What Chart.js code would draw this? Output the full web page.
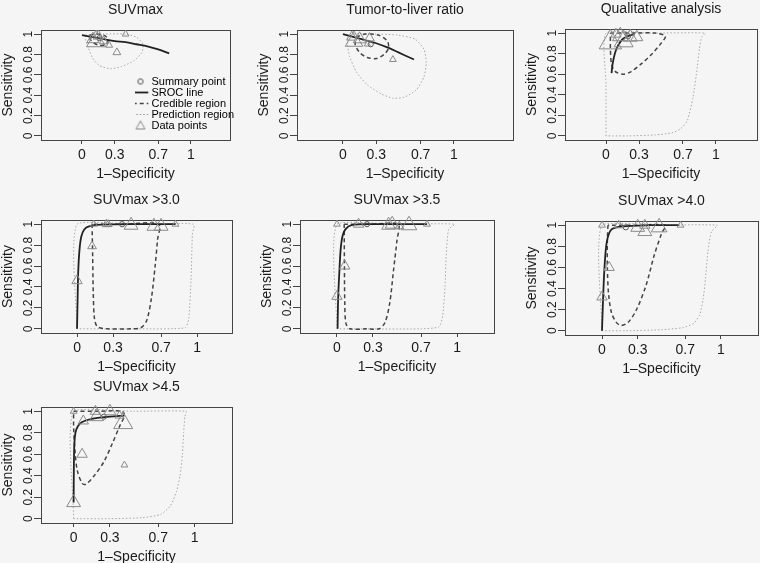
<!DOCTYPE html>
<html>
<head>
<meta charset="utf-8">
<script src="https://cdn.jsdelivr.net/npm/chart.js@4.4.1/dist/chart.umd.min.js"></script>
<style>
  body { margin: 0; background: #f5f5f5; width: 760px; height: 563px; position: relative; overflow: hidden; }
  canvas { position: absolute; }
</style>
</head>
<body>
<script>
// ---- data: [1-specificity, sensitivity] ----
const titles = ["SUVmax", "Tumor-to-liver ratio", "Qualitative analysis",
                "SUVmax >3.0", "SUVmax >3.5", "SUVmax >4.0", "SUVmax >4.5"];
const xTicks = [0, 0.3, 0.7, 1];
const yTicks = [0, 0.2, 0.4, 0.6, 0.8, 1];

// SROC lines
const srocSuv = [[0,0.99],[0.1,0.97],[0.2,0.95],[0.3,0.93],[0.4,0.92],[0.5,0.9],[0.6,0.88],[0.7,0.85],[0.8,0.81]];
const srocTlr = [[0,1.0],[0.1,0.97],[0.2,0.94],[0.3,0.91],[0.4,0.87],[0.5,0.82],[0.6,0.77],[0.64,0.75]];
const srocQual = [[0.05,0.61],[0.06,0.7],[0.08,0.8],[0.11,0.88],[0.15,0.94],[0.2,0.97],[0.26,0.99]];
const srocS30 = [[0,0],[0.005,0.3],[0.01,0.55],[0.02,0.75],[0.035,0.88],[0.06,0.95],[0.1,0.98],[0.2,0.995],[0.5,1.0],[0.82,1.0]];
const srocS35 = [[0.005,0],[0.01,0.3],[0.02,0.55],[0.03,0.75],[0.045,0.88],[0.07,0.95],[0.12,0.99],[0.3,1.0],[0.75,1.0]];
const srocS40 = [[0,0],[0.008,0.27],[0.02,0.58],[0.04,0.84],[0.08,0.96],[0.18,0.99],[0.4,1.0],[0.65,1.0]];
const srocS45 = [[0,0.15],[0.002,0.5],[0.006,0.7],[0.015,0.8],[0.035,0.86],[0.07,0.9],[0.15,0.93],[0.3,0.95],[0.42,0.96]];

// credible regions
const credSuv = [[0.07,0.99],[0.13,1.0],[0.2,0.99],[0.24,0.95],[0.22,0.9],[0.16,0.89],[0.1,0.92],[0.07,0.96],[0.07,0.99]];
const credTlr = [[0.12,0.97],[0.2,1.0],[0.32,0.99],[0.4,0.93],[0.41,0.86],[0.37,0.8],[0.3,0.76],[0.22,0.77],[0.15,0.82],[0.11,0.9],[0.12,0.97]];
const credQual = [[0.04,1.0],[0.25,1.0],[0.45,1.0],[0.54,0.97],[0.5,0.9],[0.42,0.8],[0.32,0.7],[0.22,0.62],[0.15,0.6],[0.08,0.63],[0.05,0.7],[0.04,0.85],[0.04,1.0]];
const credS30 = [[0.125,1.0],[0.13,0.7],[0.135,0.35],[0.145,0.1],[0.17,0.02],[0.25,0.0],[0.45,0.0],[0.53,0.01],[0.58,0.08],[0.62,0.3],[0.65,0.6],[0.67,0.85],[0.68,1.0],[0.4,1.0],[0.125,1.0]];
const credS35 = [[0.06,1.0],[0.062,0.6],[0.065,0.25],[0.075,0.05],[0.11,0.0],[0.25,0.0],[0.35,0.0],[0.4,0.06],[0.44,0.25],[0.47,0.55],[0.5,0.85],[0.51,1.0],[0.3,1.0],[0.06,1.0]];
const credS40 = [[0.05,1.0],[0.045,0.85],[0.045,0.6],[0.055,0.35],[0.08,0.17],[0.12,0.08],[0.16,0.05],[0.22,0.08],[0.29,0.2],[0.37,0.43],[0.44,0.72],[0.5,0.92],[0.53,1.0],[0.3,1.0],[0.05,1.0]];
const credS45 = [[0.0,1.0],[0.2,1.0],[0.4,1.0],[0.42,0.96],[0.38,0.86],[0.32,0.7],[0.25,0.53],[0.17,0.4],[0.1,0.32],[0.07,0.33],[0.03,0.45],[0.01,0.65],[0.0,0.85],[0.0,1.0]];

// prediction regions
const predSuv = [[0.03,0.99],[0.2,1.0],[0.4,1.0],[0.5,0.97],[0.56,0.9],[0.55,0.82],[0.48,0.74],[0.36,0.68],[0.26,0.66],[0.16,0.69],[0.1,0.76],[0.06,0.86],[0.03,0.95],[0.03,0.99]];
const predTlr = [[0.04,0.97],[0.1,1.0],[0.3,1.0],[0.5,0.99],[0.65,0.95],[0.73,0.85],[0.75,0.72],[0.73,0.58],[0.66,0.45],[0.55,0.38],[0.45,0.37],[0.35,0.41],[0.22,0.5],[0.12,0.63],[0.06,0.78],[0.04,0.9],[0.04,0.97]];
const predQual = [[0,0],[0,0.5],[0,1.0],[0.4,1.0],[0.9,1.0],[0.87,0.96],[0.85,0.85],[0.83,0.67],[0.79,0.37],[0.74,0.15],[0.68,0.07],[0.6,0.03],[0.45,0.01],[0.2,0],[0,0]];
const predS30 = [[0,0],[0,1],[0.5,1.0],[0.97,1.0],[0.96,0.9],[0.95,0.5],[0.93,0.1],[0.9,0.01],[0.5,0],[0,0]];
const predS35 = [[0,0],[0,1],[0.5,1.0],[0.98,1.0],[0.93,0.95],[0.91,0.7],[0.9,0.4],[0.88,0.12],[0.85,0.02],[0.7,0],[0,0]];
const predS40 = [[0,0],[0,1],[0.5,1.0],[0.97,1.0],[0.92,0.94],[0.89,0.75],[0.87,0.5],[0.85,0.3],[0.82,0.15],[0.77,0.07],[0.68,0.03],[0.5,0.01],[0.2,0],[0,0]];
const predS45 = [[0,0],[0,1],[0.5,1.0],[0.93,1.0],[0.92,0.95],[0.91,0.8],[0.9,0.6],[0.88,0.4],[0.85,0.25],[0.8,0.12],[0.72,0.04],[0.57,0.01],[0.3,0],[0,0]];

// summary points
const summaries = [[0.16,0.96],[0.25,0.9],[0.2,0.97],[0.375,1.0],[0.25,1.0],[0.2,0.98],[0.25,0.95]];

// study data points: [x, y, study weight]
const ptsSuv = [[0.13,0.93,48],[0.15,0.98,14],[0.1,0.95,19],[0.2,0.93,10],[0.25,0.89,6],[0.32,0.82,8],[0.4,1.0,6]];
const ptsTlr = [[0.1,0.93,40],[0.15,0.95,21],[0.08,0.97,14],[0.24,0.96,12],[0.22,0.9,5],[0.45,0.75,6]];
const ptsQual = [[0.04,0.91,66],[0.16,0.92,47],[0.13,0.97,32],[0.22,0.96,25],[0.28,0.96,19],[0.09,0.99,14]];
const ptsS30 = [[0,0.46,14],[0.125,0.79,10],[0.14,1.0,6],[0.245,1.0,10],[0.26,1.0,8],[0.45,0.99,25],[0.64,0.98,25],[0.7,0.98,25],[0.82,1.0,6]];
const ptsS35 = [[0,1.0,6],[0,0.31,14],[0.065,0.6,14],[0.18,1.0,14],[0.43,0.99,25],[0.46,1.0,25],[0.6,0.99,32],[0.52,0.98,10],[0.75,1.0,6]];
const ptsS40 = [[0,1.0,6],[0,0.32,14],[0.06,0.6,14],[0.14,1.0,10],[0.3,0.98,25],[0.36,1.0,14],[0.36,0.94,25],[0.48,0.98,32],[0.66,1.0,6]];
const ptsS45 = [[0,1.0,6],[0,0.15,25],[0.07,0.6,14],[0.08,0.91,14],[0.18,1.0,14],[0.19,0.95,25],[0.3,1.0,19],[0.41,0.89,47],[0.38,0.96,10],[0.42,0.5,6]];

// ---- panel layout (plot box in page pixels, x range) ----
const panels = [
  { box: [41, 30, 230, 140],  xr: [-0.376, 1.358], sroc: srocSuv,  cred: credSuv,  pred: predSuv,  pts: ptsSuv,  legend: true },
  { box: [297, 30, 513, 140], xr: [-0.414, 1.532], sroc: srocTlr,  cred: credTlr,  pred: predTlr,  pts: ptsTlr },
  { box: [565, 29, 757, 140], xr: [-0.373, 1.373], sroc: srocQual, cred: credQual, pred: predQual, pts: ptsQual },
  { box: [41, 220, 232, 333], xr: [-0.3, 1.29],    sroc: srocS30,  cred: credS30,  pred: predS30,  pts: ptsS30 },
  { box: [300, 220, 494, 333], xr: [-0.308, 1.308], sroc: srocS35, cred: credS35,  pred: predS35,  pts: ptsS35 },
  { box: [565, 221, 758, 335], xr: [-0.311, 1.311], sroc: srocS40, cred: credS40,  pred: predS40,  pts: ptsS40 },
  { box: [41, 407, 232, 523], xr: [-0.27, 1.31],   sroc: srocS45,  cred: credS45,  pred: predS45,  pts: ptsS45 }
];

Chart.defaults.font.family = "'Liberation Sans', Arial, sans-serif";
Chart.defaults.color = '#1a1a1a';

const AXIS = '#444';
const LEFT = 41, TOP = 30, BOTTOM = 45, RIGHT = 24;

const xy = arr => arr.map(p => ({ x: p[0], y: p[1] }));

// small marker images for the legend
function markerImg(kind) {
  const c = document.createElement('canvas');
  c.width = 12; c.height = 12;
  const g = c.getContext('2d');
  g.lineWidth = 1;
  if (kind === 'circle') {
    g.strokeStyle = '#555';
    g.beginPath(); g.arc(6, 6, 2.6, 0, Math.PI * 2); g.stroke();
  } else {
    g.strokeStyle = '#888';
    g.beginPath(); g.moveTo(6, 1.5); g.lineTo(10.5, 9.5); g.lineTo(1.5, 9.5); g.closePath(); g.stroke();
  }
  return c;
}

const legendItems = [
  { text: 'Summary point', pointStyle: markerImg('circle'), lineWidth: 1, strokeStyle: '#555', fillStyle: 'rgba(0,0,0,0)' },
  { text: 'SROC line', pointStyle: 'line', lineWidth: 1.8, strokeStyle: '#222', lineDash: [] },
  { text: 'Credible region', pointStyle: 'line', lineWidth: 1.5, strokeStyle: '#444', lineDash: [4, 3] },
  { text: 'Prediction region', pointStyle: 'line', lineWidth: 1, strokeStyle: '#999', lineDash: [1.5, 2] },
  { text: 'Data points', pointStyle: markerImg('tri'), lineWidth: 1, strokeStyle: '#888', fillStyle: 'rgba(0,0,0,0)' }
];

// put the legend inside the plot box, lower right
const legendInside = {
  id: 'legendInside',
  afterLayout(chart) {
    const lg = chart.legend;
    if (chart.options.plugins.legend.display && lg) {
      const dx = chart.chartArea.left + 94 - lg.left;
      const dy = chart.chartArea.top + 46 - lg.top;
      lg.left += dx; lg.right += dx + 200;
      lg.top += dy; lg.bottom += dy + 200;
    }
  }
};

panels.forEach((p, i) => {
  const [bl, bt, br, bb] = p.box;
  const cv = document.createElement('canvas');
  const w = LEFT + (br - bl) + RIGHT;
  const h = TOP + (bb - bt) + BOTTOM;
  cv.width = w; cv.height = h;
  cv.style.left = (bl - LEFT) + 'px';
  cv.style.top = (bt - TOP) + 'px';
  cv.style.width = w + 'px';
  cv.style.height = h + 'px';
  document.body.appendChild(cv);

  new Chart(cv, {
    type: 'scatter',
    data: {
      datasets: [
        {
          label: 'Data points',
          data: p.pts.map(d => ({ x: d[0], y: d[1] })),
          pointStyle: 'triangle',
          pointRadius: p.pts.map(d => 1.6 * Math.sqrt(d[2])),
          borderColor: '#8a8a8a',
          backgroundColor: 'rgba(0,0,0,0)',
          borderWidth: 1,
          clip: false
        },
        {
          label: 'Summary point',
          data: xy([summaries[i]]),
          pointStyle: 'circle',
          pointRadius: 2.6,
          borderColor: '#555',
          backgroundColor: 'rgba(0,0,0,0)',
          borderWidth: 1
        },
        {
          label: 'SROC line',
          data: xy(p.sroc),
          showLine: true,
          pointRadius: 0,
          borderColor: '#222',
          borderWidth: 1.8,
          tension: 0.3
        },
        {
          label: 'Credible region',
          data: xy(p.cred),
          showLine: true,
          pointRadius: 0,
          borderColor: '#444',
          borderWidth: 1.5,
          borderDash: [4, 3],
          tension: 0.3
        },
        {
          label: 'Prediction region',
          data: xy(p.pred),
          showLine: true,
          pointRadius: 0,
          borderColor: '#a8a8a8',
          borderWidth: 1,
          borderDash: [1.5, 2],
          tension: 0.2
        }
      ]
    },
    options: {
      responsive: false,
      animation: false,
      events: [],
      layout: { padding: { left: 0, top: 0, right: RIGHT, bottom: 0 } },
      scales: {
        x: {
          type: 'linear', position: 'bottom', min: p.xr[0], max: p.xr[1],
          afterBuildTicks: s => { s.ticks = xTicks.map(v => ({ value: v })); },
          afterFit: s => { s.height = BOTTOM; },
          ticks: { callback: v => String(v), font: { size: 14 }, padding: 3, maxRotation: 0, autoSkip: false },
          grid: { drawOnChartArea: false, tickLength: 4, color: AXIS },
          border: { color: AXIS },
          title: { display: true, text: '1\u2013Specificity', font: { size: 14 }, padding: { top: 0, bottom: 2.5 } }
        },
        y: {
          type: 'linear', position: 'left', min: -0.04, max: 1.04,
          afterBuildTicks: s => { s.ticks = yTicks.map(v => ({ value: v })); },
          afterFit: s => { s.width = LEFT; },
          ticks: { callback: v => String(v), font: { size: 12 }, minRotation: 90, maxRotation: 90, crossAlign: 'center', padding: -3, autoSkip: false },
          grid: { drawOnChartArea: false, tickLength: 7, color: AXIS },
          border: { color: AXIS },
          title: { display: true, text: 'Sensitivity', font: { size: 14 }, padding: { top: 0, bottom: 0 } }
        },
        x2: {
          type: 'linear', position: 'top', min: p.xr[0], max: p.xr[1],
          afterFit: s => { s.height = TOP; },
          ticks: { display: false },
          grid: { display: false },
          border: { color: AXIS },
          title: { display: true, text: titles[i], font: { size: 14 }, padding: { top: 2, bottom: 0 } }
        },
        y2: {
          type: 'linear', position: 'right', min: -0.04, max: 1.04,
          afterFit: s => { s.width = 0; },
          ticks: { display: false },
          grid: { display: false },
          border: { color: AXIS }
        }
      },
      plugins: {
        tooltip: { enabled: false },
        legend: {
          display: !!p.legend,
          position: 'chartArea',
          align: 'start',
          labels: {
            usePointStyle: true,
            padding: 0,
            font: { size: 11 },
            color: '#1a1a1a',
            generateLabels: () => legendItems
          }
        }
      }
    },
    plugins: [legendInside]
  });
});
</script>
</body>
</html>
